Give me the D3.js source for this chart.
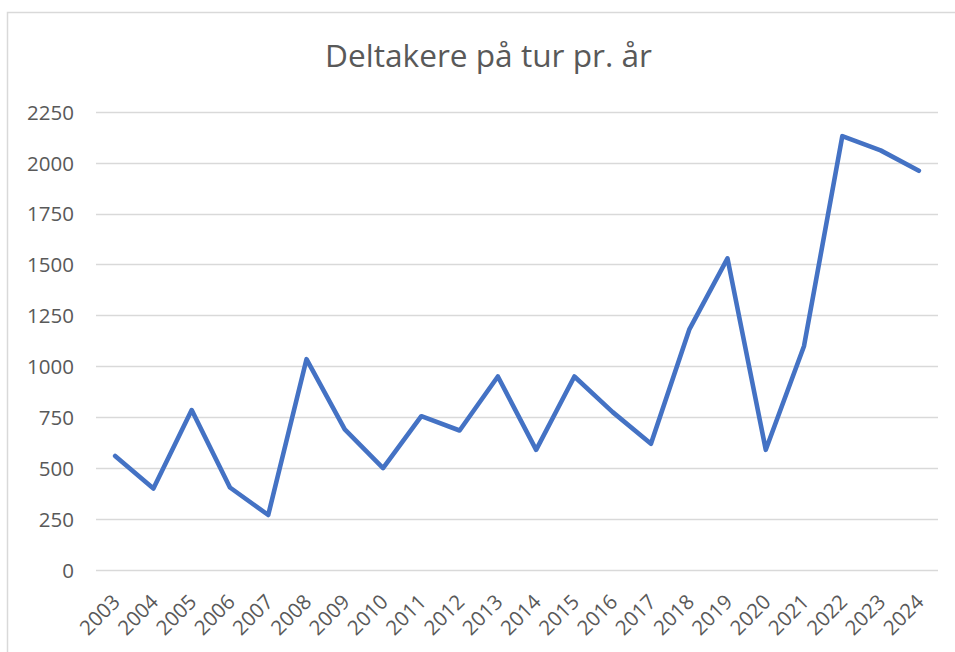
<!DOCTYPE html>
<html>
<head>
<meta charset="utf-8">
<script src="https://cdn.jsdelivr.net/npm/d3@7"></script>
<style>
  html, body { margin: 0; padding: 0; background: #ffffff; }
  svg { display: block; }
</style>
</head>
<body>
<svg id="chart" width="955" height="652"></svg>
<script>
const years = ["2003","2004","2005","2006","2007","2008","2009","2010","2011","2012","2013","2014","2015","2016","2017","2018","2019","2020","2021","2022","2023","2024"];
const participants = [560, 400, 785, 405, 270, 1035, 690, 500, 755, 685, 950, 590, 950, 775, 620, 1180, 1530, 590, 1100, 2130, 2060, 1960];
const yTicks = [0, 250, 500, 750, 1000, 1250, 1500, 1750, 2000, 2250];
const title = "Deltakere på tur pr. år";

const svg = d3.select("#chart");
const W = 955, H = 652;
const margin = { left: 96, right: 17, top: 111.7, bottom: 82 };
const font = "'Open Sans', 'Noto Sans', sans-serif";
const textColor = "#595959";

// outer chart border
svg.append("rect")
  .attr("x", 7.5).attr("y", 12.5)
  .attr("width", W + 20).attr("height", H + 20)
  .attr("fill", "#ffffff")
  .attr("stroke", "#d9d9d9").attr("stroke-width", 1.5);

const x = d3.scaleBand().domain(years).range([96, 938]).paddingInner(0).paddingOuter(0);
const y = d3.scaleLinear().domain([0, 2250]).range([570, 111.7]);

// gridlines
svg.append("g")
  .selectAll("line")
  .data(yTicks)
  .join("line")
  .attr("x1", 96).attr("x2", 938)
  .attr("y1", d => Math.round(y(d)) + 0.5).attr("y2", d => Math.round(y(d)) + 0.5)
  .attr("stroke", "#d9d9d9").attr("stroke-width", 1.5);

// y axis labels
const yAxis = d3.axisLeft(y).tickValues(yTicks).tickSize(0).tickPadding(0).tickFormat(d3.format("d"));
const yg = svg.append("g").attr("transform", "translate(74,0)").call(yAxis);
yg.select(".domain").remove();
yg.selectAll("text")
  .attr("font-family", font).attr("font-size", 20.5)
  .attr("fill", textColor).attr("dy", "0.36em");

// x axis labels
const xg = svg.append("g");
xg.selectAll("text")
  .data(years)
  .join("text")
  .attr("transform", d => `translate(${x(d) + x.bandwidth() / 2 + 1},598) rotate(-45)`)
  .attr("text-anchor", "end")
  .attr("dy", "0.36em")
  .attr("font-family", font).attr("font-size", 20.5)
  .attr("fill", textColor)
  .text(d => d);

// line
const line = d3.line()
  .x((d, i) => x(years[i]) + x.bandwidth() / 2)
  .y(d => y(d));
svg.append("path")
  .datum(participants)
  .attr("d", line)
  .attr("fill", "none")
  .attr("stroke", "#4472C4")
  .attr("stroke-width", 4.6)
  .attr("stroke-linejoin", "round")
  .attr("stroke-linecap", "round");

// title
const t = svg.append("text")
  .attr("x", 488.5).attr("y", 67)
  .attr("text-anchor", "middle")
  .attr("font-family", font).attr("font-size", 30)
  .attr("fill", textColor)
  .text(title);
const tw = t.node().getComputedTextLength();
if (tw > 0) t.attr("font-size", 30 * 327 / tw);
</script>
</body>
</html>
